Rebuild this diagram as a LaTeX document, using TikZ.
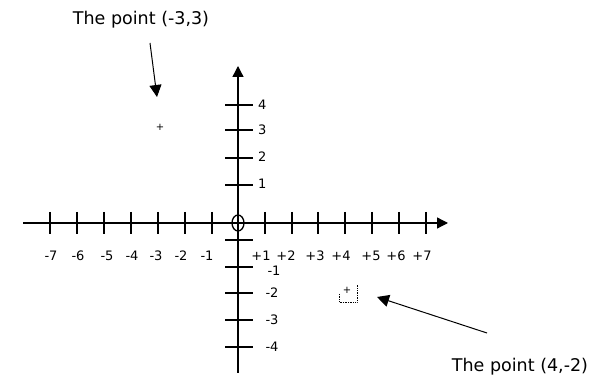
\documentclass[tikz,border=0pt]{standalone}
\usepackage{fontspec}
\setmainfont{DejaVu Sans}
\usetikzlibrary{arrows.meta,shapes.geometric}
\begin{document}
\begin{tikzpicture}[x=1pt,y=-1pt,
  axis/.style={line width=1.3pt},
  tk/.style={line width=1.1pt},
  lbl/.style={font=\fontsize{13}{15}\selectfont, inner sep=0pt},
  callout/.style={font=\fontsize{17.5}{20}\selectfont, inner sep=0pt},
  pointer/.style={line width=1pt, -{Triangle[length=12pt,width=12pt]}},
  axtip/.style={-{Triangle[length=11pt,width=11pt]}}]
\useasboundingbox (0,0) rectangle (603,379);
% axes
\coordinate (xl) at (23,223);
\coordinate (xr) at (448,223);
\coordinate (yt) at (238,66);
\coordinate (yb) at (238,373);
\draw[axis,axtip] (xl) -- (xr);
\draw[axis,axtip] (yb) -- (yt);
% origin
\node[draw, ellipse, line width=1.3pt, minimum width=12pt, minimum height=16pt, inner sep=0pt] (o) at (238,223) {};
% x ticks
\foreach \x in {50,77,104,131,158,185,212,265,292,318,345,372,399,426}{
  \draw[tk] (\x,212) -- (\x,234);
}
% x labels
\foreach \x/\t in {51/-7,78/-6,107/-5,132/-4,156/-3,181/-2,207/-1,261/+1,286/+2,315/+3,341/+4,371/+5,396/+6,422/+7}{
  \node[lbl] (xl\x) at (\x,256) {\t};
}
% y ticks
\foreach \y in {105,130,158,185,267,293,320,347}{
  \draw[tk] (225,\y) -- (253,\y);
}
\draw[line width=1.8pt] (225,240) -- (253,240);
% y labels
\node[lbl, anchor=west] (y4) at (258,105) {4};
\node[lbl, anchor=west] (y3) at (258,130) {3};
\node[lbl, anchor=west] (y2) at (258,157) {2};
\node[lbl, anchor=west] (y1) at (258,184) {1};
\node[lbl] (ym1) at (274,271) {-1};
\node[lbl] (ym2) at (272,293) {-2};
\node[lbl] (ym3) at (272,320) {-3};
\node[lbl] (ym4) at (272,347) {-4};
% points
\node[inner sep=0pt, font=\fontsize{10}{10}\selectfont] (pA) at (160,127) {+};
\node[inner sep=0pt, font=\fontsize{10}{10}\selectfont] (pB) at (347,290) {+};
\draw[densely dotted, line width=0.7pt] (339,294) -- (339,302) -- (357,302) -- (357,285);
% callouts
\node[callout] (tA) at (141,20) {The point (-3,3)};
\node[callout] (tB) at (520,367) {The point (4,-2)};
\coordinate (aS) at (150,43);
\coordinate (aE) at (157,97);
\coordinate (bS) at (487,333);
\coordinate (bE) at (377,297);
\draw[pointer] (aS) -- (aE);
\draw[pointer] (bS) -- (bE);
\end{tikzpicture}
\end{document}
